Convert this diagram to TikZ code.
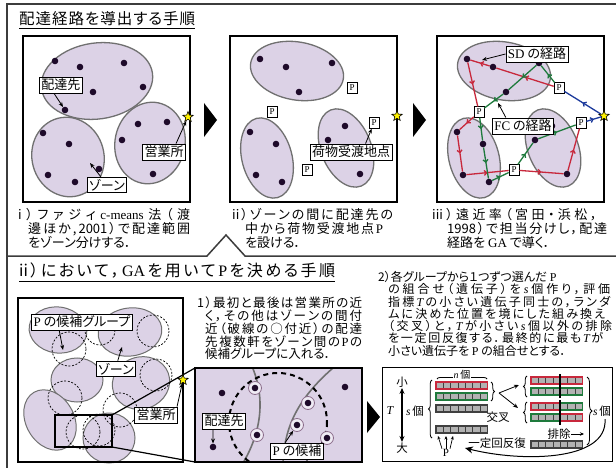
\documentclass[tikz,border=0pt]{standalone}
\usepackage{fontspec}
\setmainfont{Liberation Serif}
\newfontfamily\jp[RawFeature=+palt]{Noto Sans CJK JP}
\usetikzlibrary{shapes.geometric,decorations.pathreplacing,decorations.markings,arrows.meta,calc}
\definecolor{lav}{HTML}{DCD2E6}
\definecolor{zoneline}{HTML}{707070}
\definecolor{dotc}{HTML}{1E0A2A}
\definecolor{rroute}{HTML}{C8283C}
\definecolor{groute}{HTML}{1E7A3C}
\definecolor{broute}{HTML}{1C3A9C}
\definecolor{framec}{HTML}{3C3C3C}
\definecolor{ringc}{HTML}{8C6E8C}
\newcommand\rmx[1]{{\rmfamily #1}}
\newcommand\itx[1]{{\rmfamily\itshape #1}}
% justified line: spread tokens evenly over a given width
\def\jsp#1{\ifx\relax#1\else{#1}\hspace{0pt plus 1fil}\expandafter\jsp\fi}
\newcommand\jl[2]{\makebox[#1pt][s]{\jsp#2\relax\unskip}}
\tikzset{
 zone/.style={fill=lav, draw=zoneline, line width=1.3pt},
 zonethin/.style={fill=lav, draw=zoneline, line width=1pt},
 dot/.style={circle, fill=dotc, inner sep=0pt, minimum size=6.6pt},
 ringdot/.style={circle, draw=ringc, fill=lav!45!white, line width=0.8pt, inner sep=0pt, minimum size=13pt,
   path picture={\fill[dotc] (path picture bounding box.center) circle[radius=3.3pt];}},
 lbl/.style={draw=black, line width=0.9pt, fill=white, inner sep=2pt, font=\jp\fontsize{13}{13}\selectfont},
 pbx/.style={draw=black, line width=0.6pt, fill=white, inner sep=1pt, font=\rmfamily\fontsize{9}{9}\selectfont, minimum width=10pt, minimum height=10.5pt},
 panel/.style={draw=black, line width=1.8pt},
 ptr/.style={-{Stealth[length=5pt,width=4pt]}, line width=0.8pt},
 starn/.style={star, star points=5, star point ratio=2.4, fill=yellow, draw=black, line width=0.6pt, minimum size=11pt, inner sep=0pt},
 body/.style={font=\jp\fontsize{13}{14}\selectfont, align=left, inner sep=0pt, anchor=north west},
 route/.style={line width=1.3pt, postaction={decorate}, decoration={markings, mark=at position 0.5 with {\arrow{Straight Barb[length=2.5pt,width=5pt]}}}},
 cell/.style={fill=gray!60, draw=black!75, line width=0.5pt},
 dcirc/.style={draw=black, dash pattern=on 2pt off 1.6pt, line width=0.7pt},
 gat/.style={font=\jp\fontsize{11.5}{12}\selectfont, inner sep=0.5pt},
 brc/.style={decorate, decoration={brace, amplitude=3.5pt}, line width=0.8pt},
 gaar/.style={-{Stealth[length=5pt,width=4pt]}, line width=0.8pt},
}
\newcommand\chrom[3]{%
  \foreach \i in {0,...,6} {\draw[cell] (#1+\i*7.3,#2) rectangle ++(7.3,7);}
  \draw[#3, line width=1.2pt] (#1,#2) rectangle ++(51.1,7);
}
\newcommand\basemap[1]{%
 \draw[zone, rotate around={-10:(297,71)}] (297,71) ellipse [x radius=47, y radius=29];
 \draw[zone, rotate around={15:(267,158)}] (267,158) ellipse [x radius=25, y radius=41];
 \draw[zone, rotate around={22:(346,148)}] (346,148) ellipse [x radius=25, y radius=41];
 \foreach \n/\x/\y in {t1/260/59, t2/286/67, t3/299/92, t4/332/63, l1/250/132, l2/276/144, l3/256/175, l4/282/182, r1/345/126, r2/328/140, r3/360/174}
   {\node[dot] (#1\n) at (\x,\y) {};}
 \draw[panel] (230,36) rectangle (397,202);
 \node[pbx] (#1pa) at (352,88) {P};
 \node[pbx] (#1pb) at (272,112) {P};
 \node[pbx] (#1pc) at (374,123) {P};
 \node[pbx] (#1pd) at (307,170) {P};
 \node[starn] (#1s) at (397,116) {};
}
\begin{document}
\begin{tikzpicture}[x=1pt,y=-1pt]
\path[use as bounding box] (0,0) rectangle (616,468);
\clip (0,0) rectangle (616,468);
\fill[white] (0,0) rectangle (616,468);

% frame
\draw[framec, line width=1.5pt] (7,475) -- (7,4) -- (620,4);
\draw[framec, line width=1.5pt] (7,256) -- (207,256) -- (226,235) -- (245,256) -- (620,256);

% titles
\node[anchor=west, inner sep=0pt, font=\jp\fontsize{15.5}{16}\selectfont] (title1) at (19,19) {\jl{176}{配達経路を導出する手順}};
\draw[line width=0.8pt] ([yshift=-2pt]title1.south west) -- ([yshift=-2pt]title1.south east);
\node[anchor=west, inner sep=0pt, font=\jp\fontsize{16}{16}\selectfont] (title2) at (19,271) {\jl{316}{{ii}）において，{\rmx{GA}}を用いて{\rmx{P}}を決める手順}};
\draw[line width=0.8pt] ([yshift=-2pt]title2.south west) -- ([yshift=-2pt]title2.south east);

% ---------- panel i
\draw[zone, rotate around={8:(97,81)}] (97,81) ellipse [x radius=56, y radius=38];
\draw[zone, rotate around={15:(68,157)}] (68,157) ellipse [x radius=36, y radius=40];
\draw[zone, rotate around={-12:(150,143)}] (150,143) ellipse [x radius=35, y radius=41];
\foreach \n/\x/\y in {ia1/55/61, ia2/80/67, ia3/124/63, ia4/143/87, ia5/93/92, ia6/65/110,
  ib1/43/133, ib2/69/144, ib3/48/175, ib4/75/182, ib5/99/169,
  ic1/138/124, ic2/167/122, ic3/122/140, ic4/153/174}
  {\node[dot] (\n) at (\x,\y) {};}
\draw[panel] (23,36) rectangle (190,202);
\node[starn] (is) at (188,117) {};
\node[lbl] (il1) at (61,85) {配達先};
\node[lbl] (il2) at (164,152) {営業所};
\node[lbl] (il3) at (107,185) {ゾーン};
\coordinate (iz) at (90,163);
\draw[ptr] ([xshift=15pt]il1.south west) -- (ia6);
\draw[ptr] ([xshift=34pt]il2.north west) -- (is);
\draw[ptr] ([xshift=14pt]il3.north west) -- (iz);
\node[body] (capi) at (18,208) {\jl{172}{{i}）ファジィ{\rmx{c-means}}法（渡}\\\hspace*{10pt}\jl{162}{邊ほか{,}{2001}）で配達範囲}\\\hspace*{10pt}をゾーン分けする．};

% arrows between panels
\fill (204,103) -- (217,120) -- (204,137) -- cycle;
\fill (413,103) -- (426,120) -- (413,137) -- cycle;

% ---------- panel ii
\basemap{b}
\node[lbl] (bl) at (351,152) {荷物受渡地点};
\draw[ptr] ([xshift=56pt]bl.north west) -- (bpc);
\node[body] (capii) at (232,208) {\jl{161}{{ii}）ゾーンの間に配達先の}\\\hspace*{13pt}\jl{138}{中から荷物受渡地点{\rmx{P}}}\\\hspace*{13pt}を設ける．};

% ---------- panel iii
\begin{scope}[xshift=207pt]
\basemap{c}
\end{scope}
\foreach \a/\b in {cpa/ct2, ct2/ct1, ct1/cpb, cpb/cl1, cl1/cl3, cl3/cpd, cpd/cr3, cr3/cpc}
  {\draw[route, color=rroute] (\a) -- (\b);}
\foreach \a/\b in {cpa/ct4, ct4/ct3, ct3/cpb, cpb/cl2, cl2/cl4, cl4/cpd, cpd/cr2, cr2/cpc}
  {\draw[route, color=groute] (\a) -- (\b);}
\draw[route, color=broute] (cs) -- (cpa);
\draw[route, color=broute] (cpc) -- (cs);
\node[lbl] (cl1b) at (537,54) {\rmx{SD} の経路};
\node[lbl] (cl2b) at (523,126) {\rmx{FC} の経路};
\coordinate (csd) at (482,60);
\coordinate (cfc) at (498,103);
\draw[ptr] (cl1b.west) -- (csd);
\draw[ptr] ([xshift=14pt]cl2b.north west) -- (cfc);
\node[body] (capiii) at (432,208) {\jl{165}{{iii}）遠近率（宮田・浜松，}\\\hspace*{15pt}\jl{160}{{1998}）で担当分けし，配達}\\\hspace*{15pt}経路を \rmx{GA} で導く．};

% ---------- lower left box
\draw[zonethin, rotate around={-8:(58,330)}] (58,330) ellipse [x radius=29, y radius=23];
\draw[zonethin, rotate around={8:(130,332)}] (130,332) ellipse [x radius=32, y radius=24];
\draw[zonethin] (77,380) ellipse [x radius=26, y radius=22];
\draw[zonethin, rotate around={20:(141,383)}] (141,383) ellipse [x radius=29, y radius=26];
\draw[zonethin, rotate around={30:(50,420)}] (50,420) ellipse [x radius=24, y radius=32];
\draw[zonethin] (109,438) ellipse [x radius=26, y radius=25];
\foreach \x/\y/\r in {69/349/17, 100/330/15, 153/331/16, 156/375/16, 65/398/17, 120/410/17, 83/432/17, 99/430/16}
  {\draw[dcirc] (\x,\y) circle[radius=\r];}
\draw[panel] (18,298) rectangle (183,462);
\coordinate (rNW) at (55,415);
\coordinate (rNE) at (112,415);
\coordinate (rSE) at (112,447);
\coordinate (insNW) at (195,368);
\coordinate (insSW) at (195,462);
\draw[line width=1.6pt] (rNW) rectangle (rSE);
\draw[line width=1.2pt] (rNE) -- (insNW);
\draw[line width=1.2pt] (rSE) -- (insSW);
\node[starn] (gs) at (183,380) {};
\node[lbl] (gl1) at (82,322) {\rmx{P} の候補グループ};
\node[lbl] (gl2) at (116,369) {ゾーン};
\node[lbl] (gl3) at (156,415) {営業所};
\coordinate (g1t) at (63,350);
\coordinate (g2t) at (122,347);
\draw[ptr] ([xshift=28pt]gl1.south west) -- (g1t);
\draw[ptr] ([xshift=22pt]gl2.north west) -- (g2t);
\draw[ptr] ([xshift=43pt]gl3.north west) -- (gs);

% ---------- inset
\begin{scope}
\clip (195,368) rectangle (362,462);
\fill[lav] (195,368) rectangle (362,462);
\draw[zoneline, line width=1.6pt] (250,362) .. controls (266,395) and (263,432) .. (240,468);
\draw[zoneline, line width=1.6pt] (340,362) .. controls (300,395) and (283,425) .. (283,468);
\draw[black, line width=2pt, dash pattern=on 5pt off 4pt] (278,422) circle[radius=49];
\end{scope}
\foreach \n/\x/\y in {hd1/222/393, hd2/213/447, hd3/345/387}
  {\node[dot] (\n) at (\x,\y) {};}
\foreach \n/\x/\y in {hr1/255/388, hr2/257/435, hr3/308/403, hr4/297/425, hr5/327/438}
  {\node[ringdot] (\n) at (\x,\y) {};}
\draw[panel] (insNW) rectangle (362,462);
\node[lbl] (hl1) at (224,421) {配達先};
\node[lbl] (hl2) at (297,451) {\rmx{P} の候補};
\draw[ptr] ([xshift=11pt]hl1.south west) -- (hd2);
\draw[ptr] ([xshift=15pt]hl2.north west) -- (hr4);
\node[body, font=\jp\fontsize{12.5}{12.7}\selectfont] (txt1) at (197,297) {\jl{165}{1）最初と最後は営業所の近}\\\hspace*{8pt}\jl{157}{く，その他はゾーンの間付}\\\hspace*{8pt}\jl{157}{近（破線の○付近）の配達}\\\hspace*{8pt}\jl{157}{先複数軒をゾーン間の{\rmx{P}}の}\\\hspace*{8pt}候補グループに入れる．};

\fill (367,401) -- (380,417) -- (367,433) -- cycle;

% ---------- 2) text
\node[body, font=\jp\fontsize{12}{12.3}\selectfont] (txt2) at (378,271) {2）各グループから１つずつ選んだ \rmx{P}\\\hspace*{10pt}\jl{222}{の組合せ（遺伝子）を{\itx{s}}個作り，評価}\\\hspace*{10pt}\jl{222}{指標{\itx{T}}の小さい遺伝子同士の，ランダ}\\\hspace*{10pt}\jl{217}{ムに決めた位置を境にした組み換え}\\\hspace*{10pt}\jl{224}{（交叉）と，{\itx{T}}が小さい{\itx{s}}個以外の排除}\\\hspace*{10pt}\jl{215}{を一定回反復する．最終的に最も{\itx{T}}が}\\\hspace*{10pt}小さい遺伝子を \rmx{P} の組合せとする．};

% ---------- GA box
\draw[line width=1pt] (382,367) rectangle (612,461);
\node[gat] (small) at (402,382) {小};
\node[gat] (large) at (402,448) {大};
\draw[{Stealth[length=6pt,width=5pt]}-{Stealth[length=6pt,width=5pt]}, line width=1.2pt] (small) -- (large);
\node[font=\rmfamily\itshape\fontsize{12}{12}\selectfont, inner sep=0pt] (tt) at (390,411) {T};
\node[gat] (sl) at (415,411) {\itx{s}\,個};
\draw[brc] (432,438) -- (432,380);
\chrom{436}{382}{rroute}
\chrom{436}{393}{groute}
\chrom{436}{405}{black!75}
\chrom{436}{426}{black!75}
\draw[brc, decoration={brace, amplitude=3pt}] (437,379) -- (487,379);
\node[gat, fill=white, font=\jp\fontsize{10}{10}\selectfont] (nn) at (462,375) {\itx{n}\,個};
\draw[brc] (491,382) -- (491,401);
\coordinate (fork) at (499,393);
\coordinate (fk1) at (519,385);
\coordinate (fk2) at (518,408);
\draw[gaar] (fork) -- (fk1);
\draw[gaar] (fork) -- (fk2);
\draw[brc] (527,397) -- (527,376);
\draw[brc] (527,423) -- (527,402);
\chrom{531}{377}{rroute}
\chrom{531}{388}{groute}
\foreach \i in {0,...,6} {\draw[cell] (531+\i*7.3,403) rectangle ++(7.3,7);}
\draw[rroute, line width=1.2pt] (531,403) rectangle (560.2,410);
\draw[groute, line width=1.2pt] (560.2,403) rectangle (582.1,410);
\foreach \i in {0,...,6} {\draw[cell] (531+\i*7.3,414) rectangle ++(7.3,7);}
\draw[groute, line width=1.2pt] (531,414) rectangle (560.2,421);
\draw[rroute, line width=1.2pt] (560.2,414) rectangle (582.1,421);
\draw[line width=1.5pt] (560,374) -- (560,398);
\draw[line width=1.5pt] (560,400) -- (560,425);
\draw[brc, decoration={brace, amplitude=5pt}] (587,377) -- (587,445);
\node[gat] (sr) at (602,411) {\itx{s}\,個};
\node[gat] (cross) at (498,417) {交叉};
\node[gat] (excl) at (559,434) {排除};
\coordinate (exa) at (584,434);
\draw[gaar, -{Stealth[length=4pt,width=3.5pt]}] (excl.east) -- (exa);
\chrom{531}{441}{black!75}
\node[gat] (rep) at (497,443) {一定回反復};
\coordinate (cv0) at (605,419);
\coordinate (cv1) at (465,448);
\draw[-{Stealth[length=8pt,width=7pt]}, line width=1pt] (cv0) .. controls (608,462) and (520,462) .. (cv1);
\node[font=\rmfamily\fontsize{11}{11}\selectfont, inner sep=0.5pt] (gp) at (446,453) {P};
\coordinate (ua) at (438,436);
\coordinate (ub) at (446,436);
\coordinate (uc) at (453,436);
\draw[gaar, -{Stealth[length=3.5pt,width=3pt]}, line width=0.7pt] ([xshift=-4pt]gp.north) -- (ua);
\draw[gaar, -{Stealth[length=3.5pt,width=3pt]}, line width=0.7pt] (gp.north) -- (ub);
\draw[gaar, -{Stealth[length=3.5pt,width=3pt]}, line width=0.7pt] ([xshift=4pt]gp.north) -- (uc);
\end{tikzpicture}
\end{document}
